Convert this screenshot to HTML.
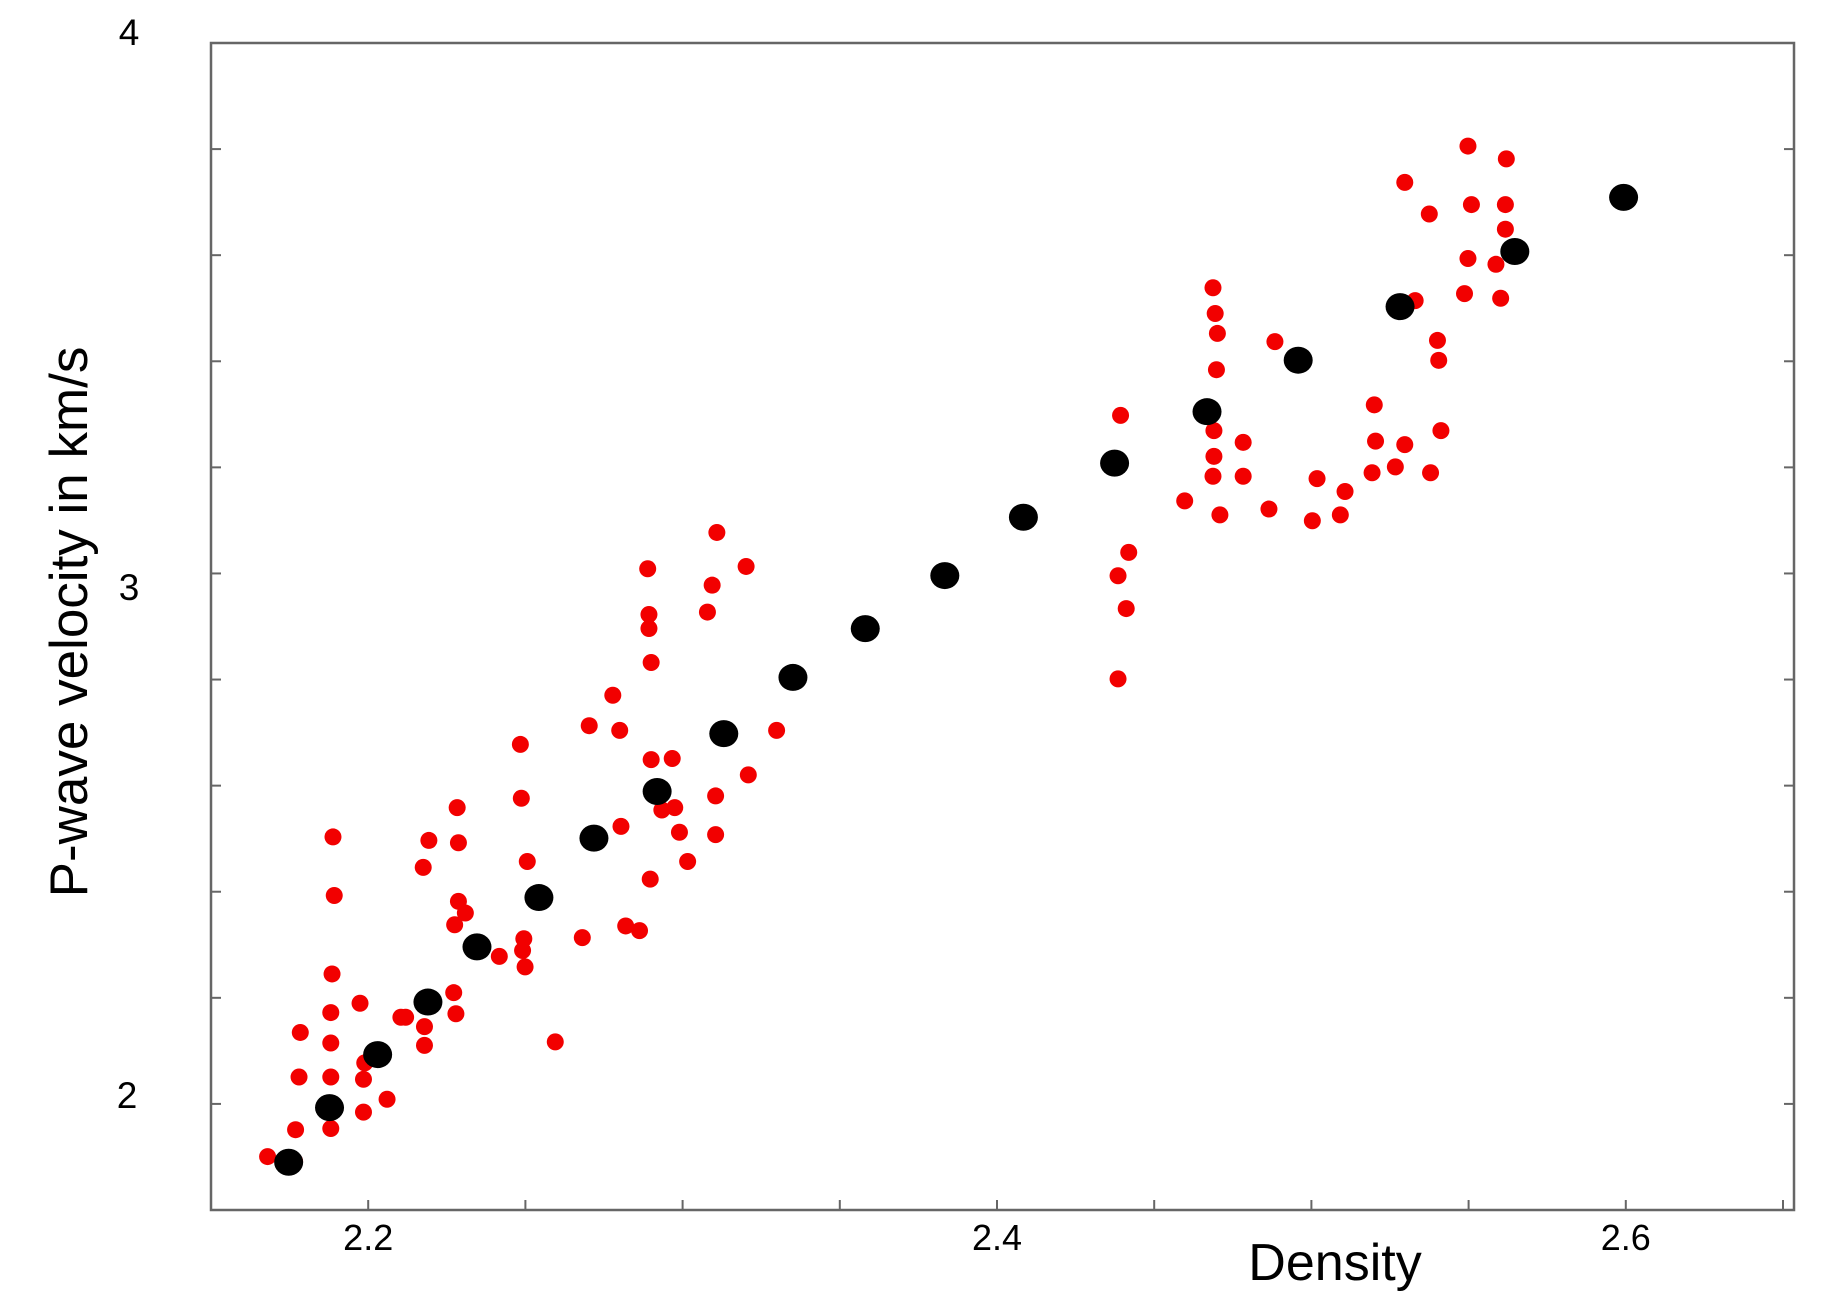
<!DOCTYPE html>
<html><head><meta charset="utf-8"><style>
html,body{margin:0;padding:0;background:#fff;}
svg{display:block;font-family:"Liberation Sans",sans-serif;}
</style></head><body>
<svg id="chart" width="1836" height="1314" viewBox="0 0 1836 1314" xmlns="http://www.w3.org/2000/svg">
<rect x="0" y="0" width="1836" height="1314" fill="#fff"/>
<g id="axes"></g>
<g id="red"></g>
<g id="black"></g>
<text x="129" y="45" font-size="37" text-anchor="middle">4</text>
<text x="129" y="600" font-size="37" text-anchor="middle">3</text>
<text x="127" y="1108" font-size="37" text-anchor="middle">2</text>
<text x="1335" y="1280" font-size="52" text-anchor="middle">Density</text>
<text transform="translate(87,622) rotate(-90)" font-size="53" text-anchor="middle">P-wave velocity in km/s</text>
</svg>
<script>
const xTickLabels = ["2.2", "2.4", "2.6"];
const xTickValues = [2.2, 2.4, 2.6];
const blackX = [2.1747,2.1877,2.203,2.219,2.2346,2.2543,2.2718,2.2919,2.3131,2.3351,2.3581,2.3834,2.4084,2.4374,2.4668,2.4958,2.5282,2.5647,2.5993];
const blackY = [1.890,1.993,2.093,2.192,2.296,2.389,2.501,2.589,2.698,2.804,2.896,2.996,3.106,3.208,3.305,3.402,3.503,3.607,3.709];
const redPx = [229,252,253,256,257,283,283,283,283,284,286,285,308,311,311,312,331,343,347,363,363,362,367,391,392,392,389,388,390,398,427,445,446,451,448,447,449,475,498,504,524,530,531,535,547,554,555,555,557,557,556,566,575,577,581,588,605,609,613,612,612,638,640,664,956,956,958,963,965,1013,1037,1039,1041,1040,1038,1038,1037,1043,1063,1063,1085,1090,1122,1126,1146,1150,1175,1176,1173,1193,1201,1201,1210,1222,1223,1229,1230,1232,1252,1255,1255,1258,1279,1283,1288,1287,1287];
const redPy = [988,992,965,920,882,964,920,891,865,832,765,715,857,950,922,908,939,869,869,893,877,741,718,690,720,770,790,848,866,780,817,636,682,736,802,812,826,890,801,620,594,624,706,791,795,486,525,537,566,649,751,692,648,690,711,736,523,500,455,680,713,484,662,624,580,492,355,520,472,428,246,268,285,316,368,390,407,440,378,407,435,292,445,409,440,420,346,377,404,399,380,156,257,183,404,291,308,368,251,125,221,175,226,255,136,175,196];
const redX = redPx.map(p => +(2.2 + (p - 315) / 2687.5).toFixed(4));
const redY = redPy.map(p => +(4 - (p - 37) / 453).toFixed(4));

const L=211,R=1794,T=43,B=1210, X0=2.15,X1=2.6535,Y0=1.8,Y1=4.0;
const sx = v => L + (v - X0) / (X1 - X0) * (R - L);
const sy = v => B - (v - Y0) / (Y1 - Y0) * (B - T);
const NS="http://www.w3.org/2000/svg";
function mk(tag, attrs, parent){const e=document.createElementNS(NS,tag);for(const k in attrs)e.setAttribute(k,attrs[k]);parent.appendChild(e);return e;}
const axes=document.getElementById('axes');
const frame=mk('rect',{x:L,y:T,width:R-L,height:B-T,fill:'none',stroke:'#666','stroke-width':2.5},axes);


for(let i=0;i<=11;i++){const v=Y0+i*0.2;if(v>Y1+1e-6)break;const y=sy(v);
 const t1=mk('line',{x1:L,x2:L+10,y1:y,y2:y,stroke:'#666','stroke-width':2},axes);
 
 
 const t2=mk('line',{x1:R-10,x2:R,y1:y,y2:y,stroke:'#666','stroke-width':2},axes);
 
 }
for(let i=0;i<=10;i++){const v=2.2+i*0.05-0.05;if(v<X0)continue;if(v>X1)break;const x=sx(v);
 const t=mk('line',{x1:x,x2:x,y1:B-10,y2:B,stroke:'#666','stroke-width':2},axes);
 
 }
xTickLabels.forEach((lab,i)=>{const t=mk('text',{x:sx(xTickValues[i]),y:1250,'font-size':36,'text-anchor':'middle'},axes);t.textContent=lab;
 
 });
const red=document.getElementById('red');
redX.forEach((v,i)=>{const c=mk('circle',{cx:sx(v),cy:sy(redY[i]),r:8.5,fill:'#f20000'},red);
 
 });
const blk=document.getElementById('black');
blackX.forEach((v,i)=>{const c=mk('ellipse',{cx:sx(v),cy:sy(blackY[i]),rx:14.5,ry:13.5,fill:'#000'},blk);
 
 });
</script>
</body></html>
